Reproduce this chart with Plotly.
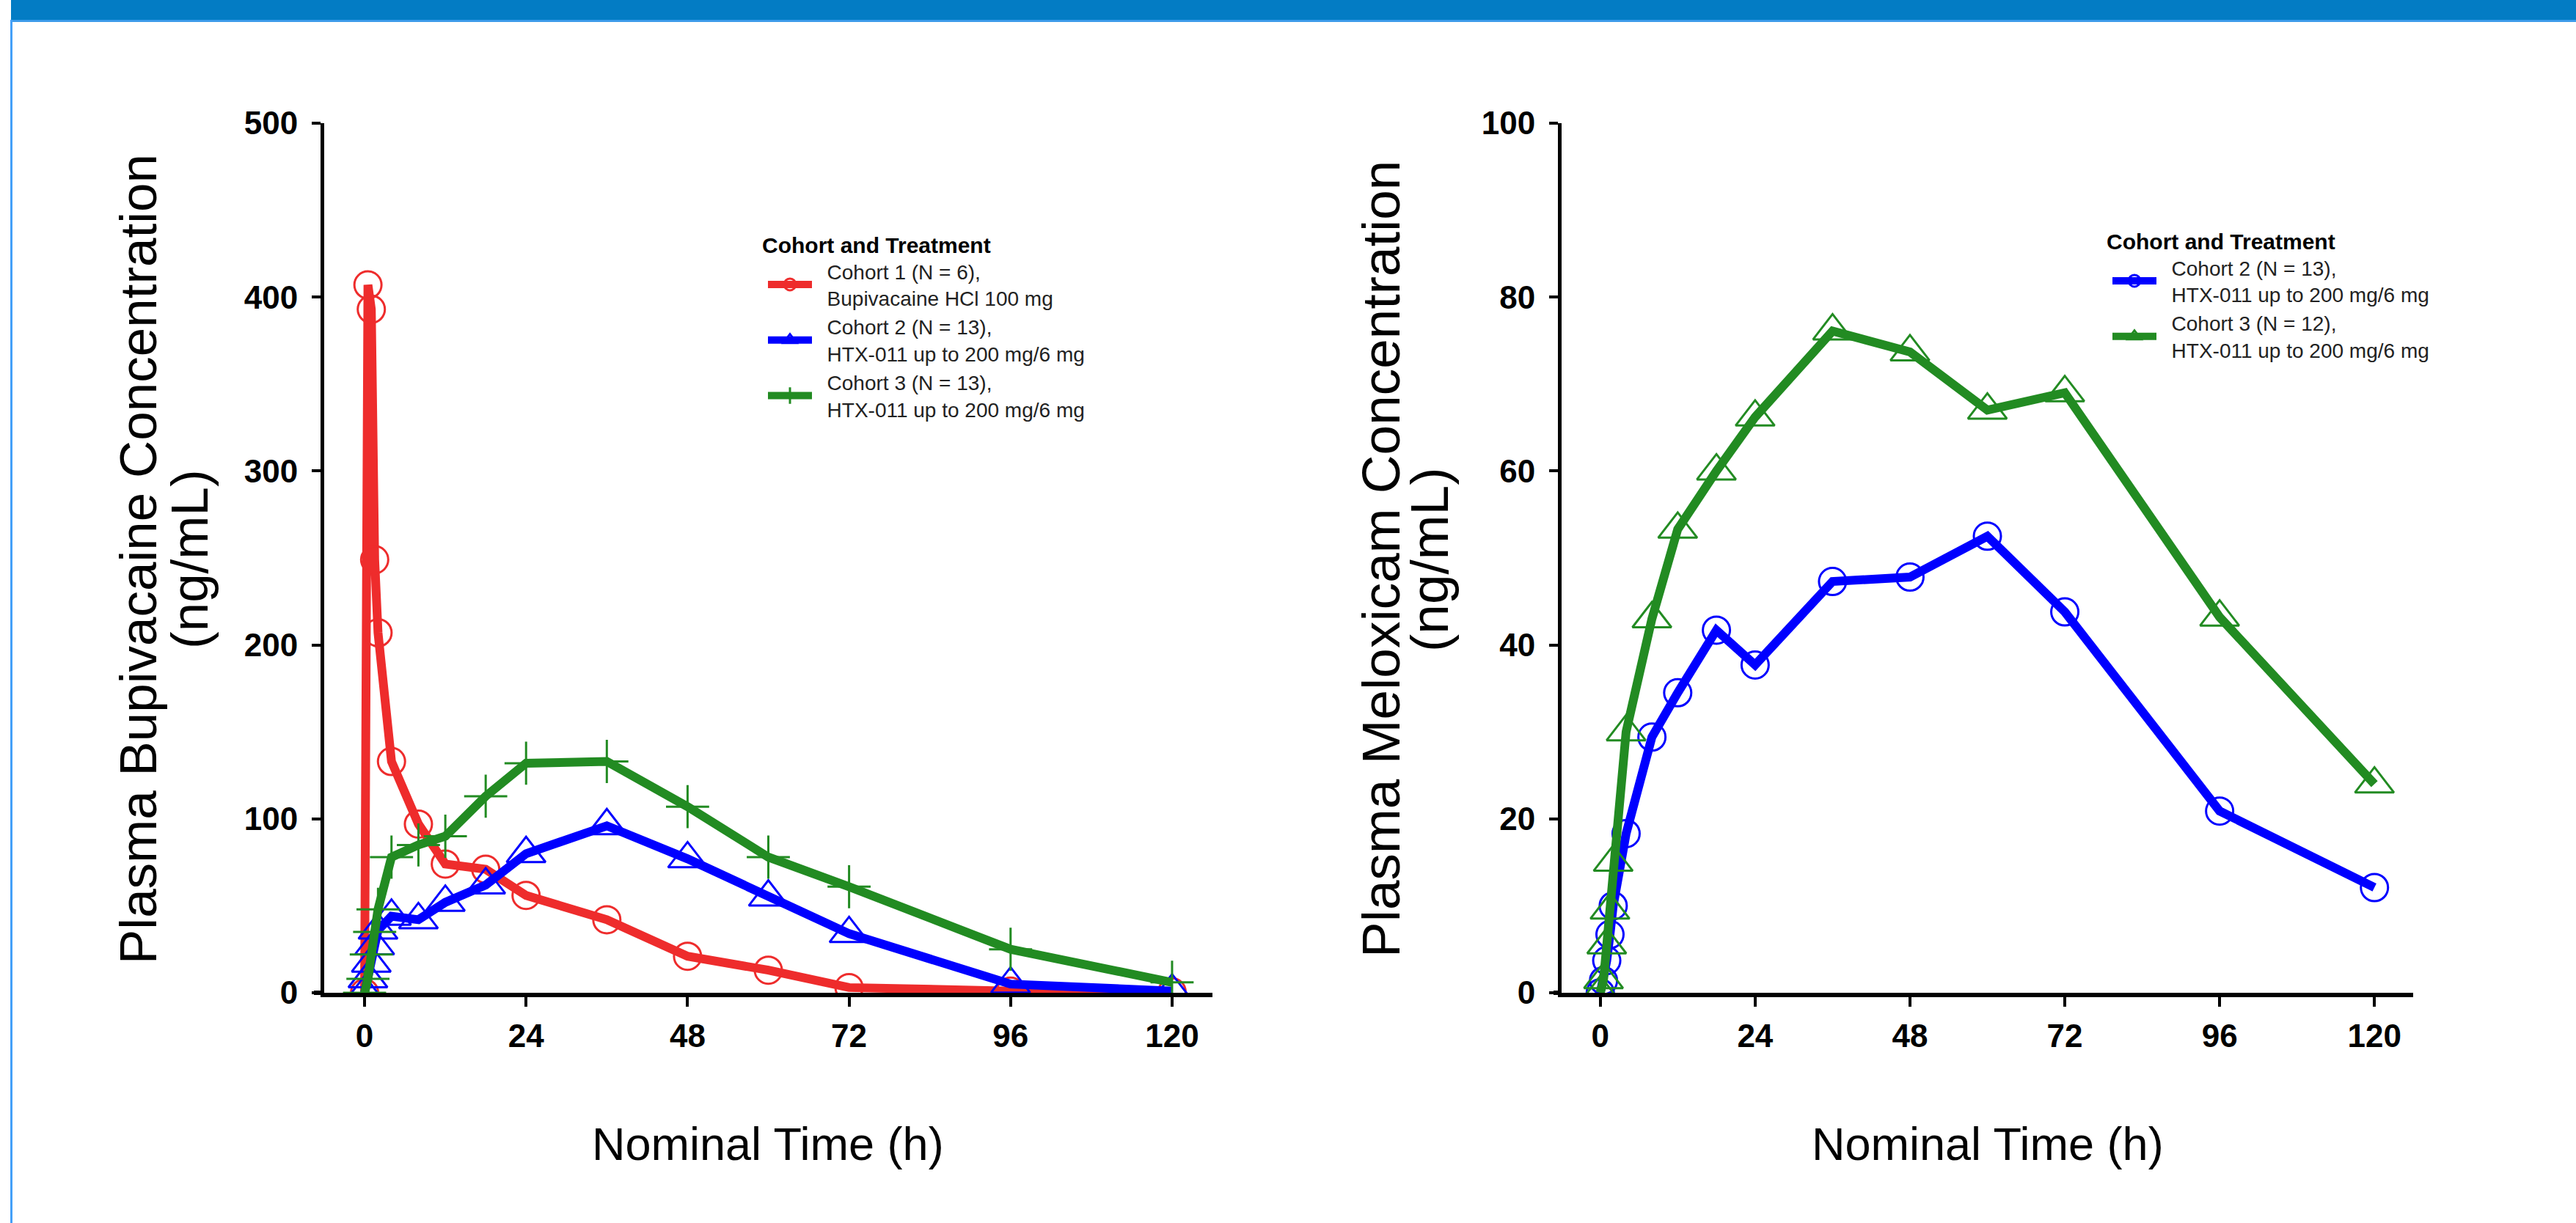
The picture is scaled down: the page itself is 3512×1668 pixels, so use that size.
import plotly.graph_objects as go

W, H = 3512, 1668

# ---------------- data ----------------
times = [0, 0.5, 1, 1.5, 2, 4, 8, 12, 18, 24, 36, 48, 60, 72, 96, 120]

bupi_cohort1 = [0, 407, 393, 249, 207, 133, 97, 74, 71, 56, 42, 21, 13, 3, 1, 0.5]
bupi_cohort2 = [0, 8, 17, 27, 36, 44, 42, 52, 62, 80, 96, 77, 55, 34, 5, 1]
bupi_cohort3 = [0, 8, 22, 35, 48, 78, 85, 90, 113, 132, 133, 107, 78, 61, 25, 6]

melox_cohort2 = [0, 1.4, 3.7, 6.7, 10, 18.3, 29.4, 34.5, 41.7, 37.7, 47.3, 47.8, 52.5, 43.8, 20.9, 12.1]
melox_cohort3 = [0, 1.5, 5.5, 9.5, 15, 30, 43, 53.3, 60, 66.2, 76.1, 73.7, 67, 69, 43.2, 24]

x_ticks = [0, 24, 48, 72, 96, 120]
bupi_ticks = [0, 100, 200, 300, 400, 500]
melox_ticks = [0, 20, 40, 60, 80, 100]

left_names = [["Cohort 1 (N = 6),", "Bupivacaine HCl 100 mg"],
              ["Cohort 2 (N = 13),", "HTX-011 up to 200 mg/6 mg"],
              ["Cohort 3 (N = 13),", "HTX-011 up to 200 mg/6 mg"]]
right_names = [["Cohort 2 (N = 13),", "HTX-011 up to 200 mg/6 mg"],
               ["Cohort 3 (N = 12),", "HTX-011 up to 200 mg/6 mg"]]

RED, BLUE, GREEN = "#EE2C2C", "#0000FF", "#228B22"

SANS = "Liberation Sans, Arial, Helvetica, sans-serif"

def px_x(p):
    return p / W

def px_y(p):
    return 1 - p / H

def legend_label(lines):
    pad = "\u00a0\u00a0"
    return "<br>".join(pad + s for s in lines)

fig = go.Figure()

def add(x, y, name, color, symbol, size, xa, ya, legend):
    fig.add_trace(go.Scatter(
        x=x, y=y, name=legend_label(name), mode="lines+markers",
        line=dict(color=color, width=12),
        marker=dict(symbol=symbol, size=size, color=color,
                    line=dict(color=color, width=3)),
        xaxis=xa, yaxis=ya, legend=legend,
    ))

add(times, bupi_cohort1, left_names[0], RED, "circle-open", 37, "x", "y", "legend")
add(times, bupi_cohort2, left_names[1], BLUE, "triangle-up-open", 46, "x", "y", "legend")
add(times, bupi_cohort3, left_names[2], GREEN, "cross-thin-open", 42, "x", "y", "legend")

add(times, melox_cohort2, right_names[0], BLUE, "circle-open", 37, "x2", "y2", "legend2")
add(times, melox_cohort3, right_names[1], GREEN, "triangle-up-open", 46, "x2", "y2", "legend2")

tickfont = dict(family=SANS, size=44, color="black", weight="bold")

xcommon = dict(range=[-6, 126], tickvals=x_ticks, ticks="outside", ticklen=13,
               tickwidth=4, tickcolor="black", showline=True, linewidth=6,
               linecolor="black", showgrid=False, zeroline=False, automargin=False,
               tickfont=tickfont, ticklabelstandoff=2, fixedrange=True)
ycommon = dict(ticks="outside", ticklen=12, tickwidth=4, tickcolor="black",
               showline=True, linewidth=5, linecolor="black", showgrid=False,
               zeroline=False, automargin=False, tickfont=tickfont,
               ticklabelstandoff=10, fixedrange=True)

legend_common = dict(xanchor="left", yanchor="top",
                     bgcolor="rgba(0,0,0,0)", borderwidth=0,
                     font=dict(family=SANS, size=28, color="#222222"),
                     title=dict(text="<b>Cohort and Treatment</b>",
                                font=dict(family=SANS, size=30, color="black")),
                     itemwidth=60, tracegroupgap=0, indentation=5)

y_top, y_bot = 168, 1354
fig.update_layout(
    template="none",
    width=W, height=H,
    margin=dict(l=0, r=0, t=0, b=0, pad=0, autoexpand=False),
    paper_bgcolor="white", plot_bgcolor="white",
    xaxis=dict(domain=[px_x(442), px_x(1653)], anchor="y", **xcommon),
    yaxis=dict(domain=[px_y(y_bot), px_y(y_top)], anchor="x",
               range=[0, 500], tickvals=bupi_ticks, **ycommon),
    xaxis2=dict(domain=[px_x(2129), px_x(3290)], anchor="y2", **xcommon),
    yaxis2=dict(domain=[px_y(y_bot), px_y(y_top)], anchor="x2",
                range=[0, 100], tickvals=melox_ticks, **ycommon),
    legend=dict(x=px_x(1037), y=px_y(306), **legend_common),
    legend2=dict(x=px_x(2870), y=px_y(301), **legend_common),
    showlegend=True,
)

# axis titles as annotations
ann = []
def ytitle(text, xpx, size):
    ann.append(dict(text=text, xref="paper", yref="paper", x=px_x(xpx), y=px_y(763),
                    xanchor="center", yanchor="middle", textangle=-90, showarrow=False,
                    font=dict(family=SANS, size=size, color="black")))

ytitle("Plasma Bupivacaine Concentration", 188, 71)
ytitle("(ng/mL)", 258, 71)
ytitle("Plasma Meloxicam Concentration", 1882, 73)
ytitle("(ng/mL)", 1948, 73)

for cx in (1047, 2710):
    ann.append(dict(text="Nominal Time (h)", xref="paper", yref="paper",
                    x=px_x(cx), y=px_y(1560), xanchor="center", yanchor="middle",
                    showarrow=False, font=dict(family=SANS, size=63, color="black")))
fig.update_layout(annotations=ann)

# page frame: top band and left border, short x-axis overhang
fig.add_shape(type="rect", xref="paper", yref="paper", x0=px_x(15), x1=1,
              y0=px_y(27), y1=1, fillcolor="#037CC4", line=dict(width=0))
fig.add_shape(type="rect", xref="paper", yref="paper", x0=px_x(15), x1=1,
              y0=px_y(30), y1=px_y(27), fillcolor="#3D9BEA", line=dict(width=0))
fig.add_shape(type="rect", xref="paper", yref="paper", x0=px_x(14), x1=px_x(17),
              y0=0, y1=px_y(27), fillcolor="#44A0F8", line=dict(width=0))
for x0, x1 in ((428, 442), (2118, 2129)):
    fig.add_shape(type="line", xref="paper", yref="paper", x0=px_x(x0), x1=px_x(x1),
                  y0=px_y(1354), y1=px_y(1354), line=dict(color="black", width=6))

fig.write_html(
    "out.html",
    config={"displayModeBar": False},
    post_script="document.body.style.margin='0';document.body.style.overflow='hidden';",
)
